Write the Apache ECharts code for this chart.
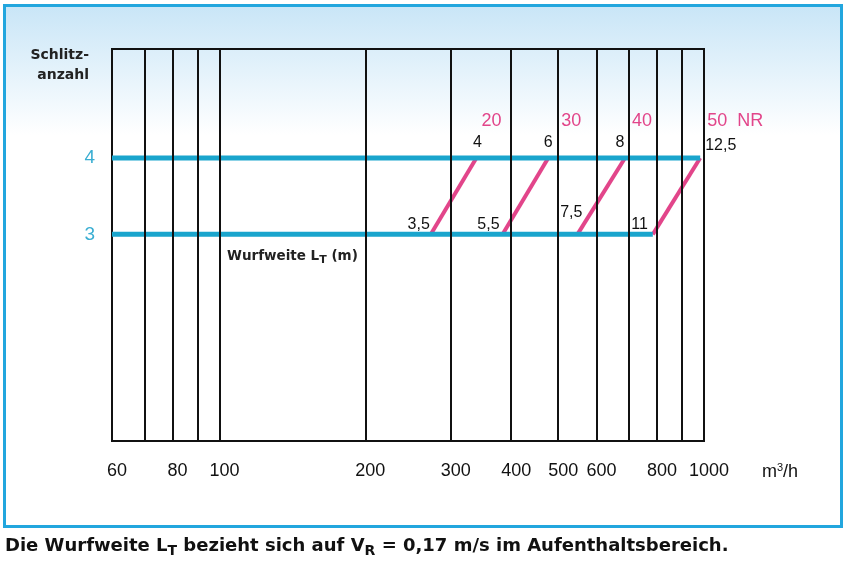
<!DOCTYPE html>
<html>
<head>
<meta charset="utf-8">
<script src="https://cdn.jsdelivr.net/npm/echarts@6/dist/echarts.min.js"></script>
<style>html,body{margin:0;padding:0;background:#fff;}#c{width:848px;height:561px;}</style>
</head>
<body>
<div id="c"></div>
<script>
// ---- data ----
const gridValues = [70, 80, 90, 100, 200, 300, 400, 500, 600, 700, 800, 900];
const xTickLabels = [60, 80, 100, 200, 300, 400, 500, 600, 800, 1000];
const slotCounts = [3, 4];
const nrLevels = [20, 30, 40, 50];
const flowAt3 = [273, 384, 548, 784];   // m3/h at 3 slots
const flowAt4 = [339, 477, 687, 982];   // m3/h at 4 slots
const throwAt3 = [3.5, 5.5, 7.5, 11];   // L_T (m) at 3 slots
const throwAt4 = [4, 6, 8, 12.5];       // L_T (m) at 4 slots

// ---- styles ----
const BLUE = '#1aa5cd';
const PINK = '#e2458a';
const lowOffsets = [[0, -10], [-2, -10], [6, -22], [-4, -10]];
const highOffsets = [[1, 0], [0, 0], [-5, 0]];
const nrOffsets = [[5, -37], [13, -37], [7, -37], [7, -37]];
const fmt = v => String(v).replace('.', ',');
const GOTHIC = "'DejaVu Sans'";

const chart = echarts.init(document.getElementById('c'), null, {renderer: 'canvas'});

const series = [];
// vertical grid lines
series.push({
  type: 'line', data: [], silent: true,
  markLine: {
    silent: true, symbol: ['none', 'none'], animation: false,
    label: {show: false},
    lineStyle: {color: '#111', width: 2, type: 'solid'},
    data: gridValues.map(v => ({xAxis: v}))
  }
});
// NR lines
nrLevels.forEach((nr, i) => {
  const last = i === nrLevels.length - 1;
  series.push({
    type: 'line', name: 'NR ' + nr, z: 3,
    symbol: 'circle', symbolSize: 0, showSymbol: true,
    lineStyle: {color: PINK, width: 4},
    itemStyle: {color: PINK},
    data: [
      {value: [flowAt3[i], 3], label: {show: true, position: 'left', distance: 1, offset: lowOffsets[i], formatter: fmt(throwAt3[i])}},
      {value: [flowAt4[i], 4], label: last
        ? {show: true, position: 'right', distance: 5, offset: [0, -12], formatter: fmt(throwAt4[i])}
        : {show: true, position: 'top', distance: 7, offset: highOffsets[i], formatter: fmt(throwAt4[i])}}
    ],
    label: {color: '#111', fontSize: 16, fontFamily: 'Liberation Sans'},
    markPoint: {
      symbol: 'circle', symbolSize: 0, silent: true,
      label: {
        show: true, position: 'inside', align: 'left', offset: nrOffsets[i],
        color: PINK, fontSize: 18, fontFamily: 'Liberation Sans',
        formatter: last ? nr + '  NR' : String(nr)
      },
      data: [{coord: [flowAt4[i], 4], value: nr}]
    }
  });
});
// slot lines
slotCounts.forEach(s => {
  const arr = s === 3 ? flowAt3 : flowAt4;
  series.push({
    type: 'line', name: s + ' Schlitze', z: 4, symbol: 'none',
    lineStyle: {color: BLUE, width: 5, cap: 'butt'},
    data: [[60, s], [arr[arr.length - 1], s]]
  });
});

const option = {
  animation: false,
  backgroundColor: '#fff',
  grid: {left: 112, right: 144, top: 49, bottom: 120, show: true, borderColor: '#111', borderWidth: 2, backgroundColor: 'transparent'},
  xAxis: {
    type: 'log', logBase: 10, min: 60, max: 1000,
    axisLine: {show: false}, axisTick: {show: false}, splitLine: {show: false}, minorSplitLine: {show: false},
    axisLabel: {
      customValues: xTickLabels, formatter: v => String(Math.round(v)),
      color: '#111', fontSize: 18, fontFamily: 'Liberation Sans', margin: 21, padding: [0, 0, 0, 10]
    },
    name: 'm{sup|3}/h', nameLocation: 'end', nameGap: 58,
    nameTextStyle: {
      color: '#111', fontSize: 18, fontFamily: 'Liberation Sans', align: 'left', verticalAlign: 'top', padding: [21, 0, 0, 0],
      rich: {sup: {fontSize: 11, fontFamily: 'Liberation Sans', color: '#111', padding: [0, 0, 9, 0]}}
    }
  },
  yAxis: {
    type: 'value', min: 0.29, max: 5.43,
    axisLine: {show: false}, axisTick: {show: false}, splitLine: {show: false},
    axisLabel: {customValues: slotCounts, color: '#3aaed2', fontSize: 19, fontFamily: 'Liberation Sans', margin: 17}
  },
  graphic: [
    {
      type: 'rect', z: -10, silent: true,
      shape: {x: 4.5, y: 5.5, width: 837, height: 521},
      style: {
        fill: new echarts.graphic.LinearGradient(0, 0, 0, 1, [
          {offset: 0, color: '#c8e5f7'}, {offset: 0.25, color: '#ffffff'}, {offset: 1, color: '#ffffff'}
        ]),
        stroke: '#22a6de', lineWidth: 3
      }
    },
    {
      type: 'text', z: 10, x: 89, y: 45, silent: true,
      style: {text: 'Schlitz-\nanzahl', align: 'right', fill: '#222', font: 'bold 14px ' + GOTHIC, lineHeight: 20}
    },
    {
      type: 'text', z: 10, x: 227, y: 256, silent: true,
      style: {
        text: '{n|Wurfweite L}{s|T}{n| (m)}', verticalAlign: 'middle',
        rich: {
          n: {font: 'bold 13.5px ' + GOTHIC, fill: '#222', verticalAlign: 'middle'},
          s: {font: 'bold 11px ' + GOTHIC, fill: '#222', padding: [9, 0, 0, 0], verticalAlign: 'middle'}
        }
      }
    },
    {
      type: 'text', z: 10, x: 5, y: 546, silent: true,
      style: {
        text: '{n|Die Wurfweite L}{s|T}{n| bezieht sich auf V}{s|R}{n| = 0,17 m/s im Aufenthaltsbereich.}',
        verticalAlign: 'middle',
        rich: {
          n: {font: 'bold 18px ' + GOTHIC, fill: '#111', verticalAlign: 'middle'},
          s: {font: 'bold 14px ' + GOTHIC, fill: '#111', padding: [10, 0, 0, 0], verticalAlign: 'middle'}
        }
      }
    }
  ],
  series: series
};
chart.setOption(option);
</script>
</body>
</html>
